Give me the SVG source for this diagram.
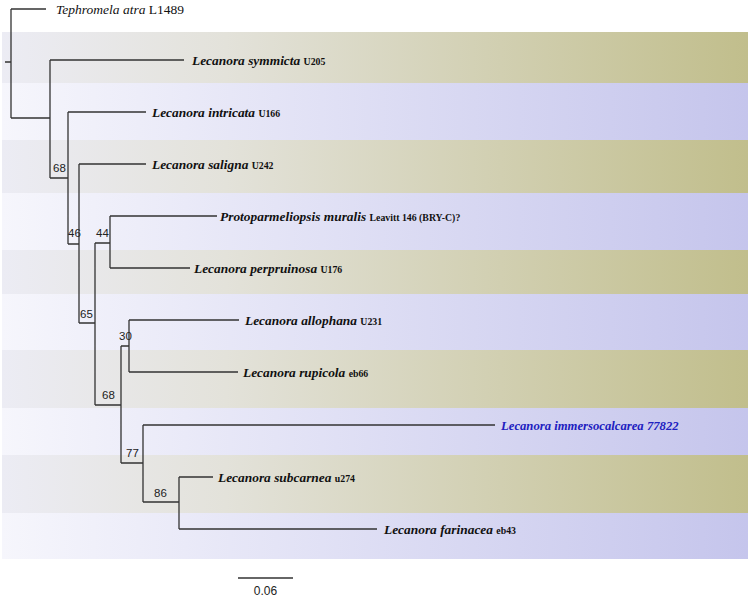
<svg xmlns="http://www.w3.org/2000/svg" width="749" height="599" viewBox="0 0 749 599">
<defs>
<linearGradient id="gOl" x1="0" y1="0" x2="1" y2="0">
<stop offset="0" stop-color="#ececf4"/>
<stop offset="0.3" stop-color="#e3e2da"/>
<stop offset="1" stop-color="#c1be8c"/>
</linearGradient>
<linearGradient id="gLv" x1="0" y1="0" x2="1" y2="0">
<stop offset="0" stop-color="#f6f6fc"/>
<stop offset="1" stop-color="#c5c5ec"/>
</linearGradient>
<style>
.ol{fill:url(#gOl)}
.lv{fill:url(#gLv)}
.br{fill:none;stroke:#333;stroke-width:1.3}
.tx{font-family:"Liberation Serif","Times New Roman",serif;font-size:13.4px;font-style:italic;font-weight:bold;fill:#111}
.st{font-style:normal;font-weight:bold;font-size:9.8px}
.bs{font-family:"Liberation Sans",Arial,sans-serif;font-size:11.5px;fill:#222}
</style>
</defs>
<rect width="749" height="599" fill="#fff"/>
<g id="bands">
<rect class="ol" x="2" y="32" width="746" height="51"/>
<rect class="lv" x="2" y="83" width="746" height="57"/>
<rect class="ol" x="2" y="140" width="746" height="53"/>
<rect class="lv" x="2" y="193" width="746" height="57"/>
<rect class="ol" x="2" y="250" width="746" height="44"/>
<rect class="lv" x="2" y="294" width="746" height="56"/>
<rect class="ol" x="2" y="350" width="746" height="58"/>
<rect class="lv" x="2" y="408" width="746" height="47"/>
<rect class="ol" x="2" y="455" width="746" height="58"/>
<rect class="lv" x="2" y="513" width="746" height="46"/>
</g>
<g id="connectors">
<path class="br" d="M5,62 H11 M11,9 V118 M11,9 H46 M11,118 H50 M50,60 V178 M50,60 H184 M50,178 H68 M68,112 V244 M68,112 H146 M68,244 H79 M79,164 V323 M79,164 H146 M79,323 H95 M95,243 V405 M95,243 H110 M110,216 V268 M110,216 H217 M110,268 H190 M95,405 H121 M121,346 V463 M121,346 H129 M129,320 V372 M129,320 H239 M129,372 H238 M121,463 H143 M143,425 V502 M143,425 H495 M143,502 H179 M179,477 V529 M179,477 H213 M179,529 H377"/>
</g>
<g id="leaf-tephromela"><text x="56" y="13.5" style="font-family:'Liberation Serif','Times New Roman',serif;font-size:13.5px;fill:#111"><tspan font-style="italic">Tephromela atra</tspan> L1489</text></g>
<g id="leaf-symmicta"><text class="tx" x="192" y="65">Lecanora symmicta <tspan class="st">U205</tspan></text></g>
<g id="leaf-intricata"><text class="tx" x="152" y="117">Lecanora intricata <tspan class="st">U166</tspan></text></g>
<g id="leaf-saligna"><text class="tx" x="152" y="169">Lecanora saligna <tspan class="st">U242</tspan></text></g>
<g id="leaf-protoparmeliopsis"><text class="tx" x="220" y="221">Protoparmeliopsis muralis <tspan class="st">Leavitt 146 (BRY-C)?</tspan></text></g>
<g id="leaf-perpruinosa"><text class="tx" x="194" y="273">Lecanora perpruinosa <tspan class="st">U176</tspan></text></g>
<g id="leaf-allophana"><text class="tx" x="245" y="325">Lecanora allophana <tspan class="st">U231</tspan></text></g>
<g id="leaf-rupicola"><text class="tx" x="243" y="377">Lecanora rupicola <tspan class="st">eb66</tspan></text></g>
<g id="leaf-immersocalcarea"><text class="tx" x="501" y="430" style="fill:#2020c0;font-size:12.7px">Lecanora immersocalcarea 77822</text></g>
<g id="leaf-subcarnea"><text class="tx" x="218" y="482">Lecanora subcarnea <tspan class="st">u274</tspan></text></g>
<g id="leaf-farinacea"><text class="tx" x="384" y="534">Lecanora farinacea <tspan class="st">eb43</tspan></text></g>
<g id="support">
<text class="bs" x="53" y="172">68</text>
<text class="bs" x="68" y="237">46</text>
<text class="bs" x="96" y="237">44</text>
<text class="bs" x="80" y="318">65</text>
<text class="bs" x="119" y="340">30</text>
<text class="bs" x="102" y="399">68</text>
<text class="bs" x="126" y="457">77</text>
<text class="bs" x="154" y="497">86</text>
</g>
<g id="scale">
<path class="br" d="M238,578 H293"/>
<text class="bs" x="265.5" y="595" text-anchor="middle" style="font-size:12px">0.06</text>
</g>
</svg>
